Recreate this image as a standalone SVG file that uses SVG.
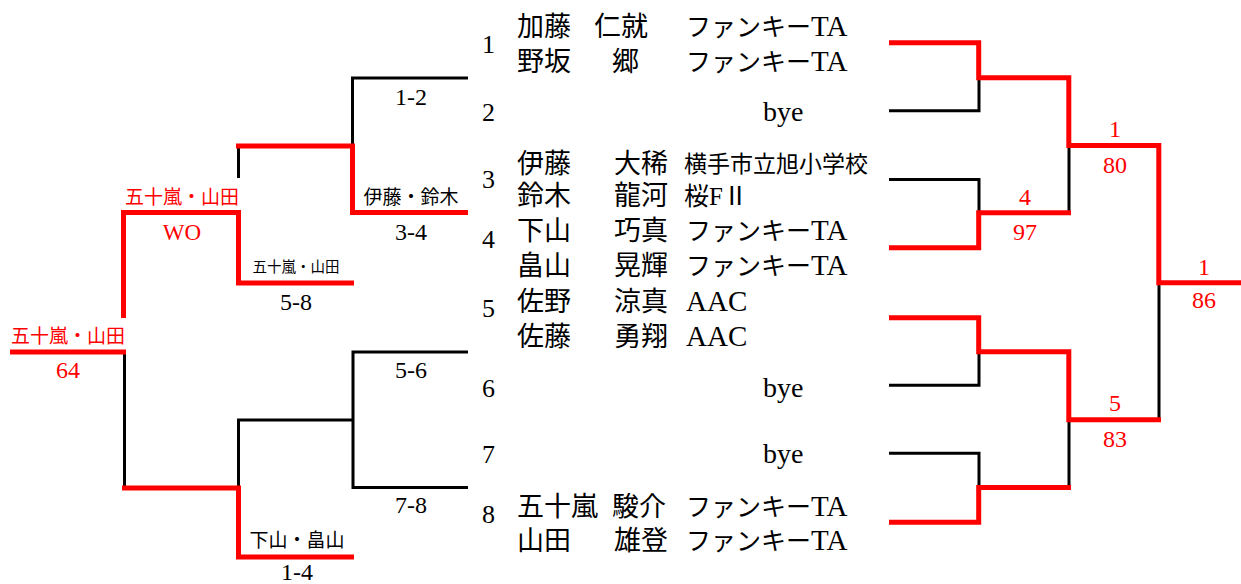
<svg xmlns="http://www.w3.org/2000/svg" width="1241" height="584" viewBox="0 0 1241 584">
<style>
text{font-family:'Liberation Serif','Noto Sans CJK JP',serif;fill:#000}
.nm{font-size:27px}
.cl{font-size:25px}
.lat{font-size:29px}
.sc{font-size:23px}
.no{font-size:26px}
.bye{font-size:28px}
.sc2{font-size:24px;text-anchor:middle}
.lb{font-size:19px;text-anchor:middle}
.lbs{font-size:14.5px;text-anchor:middle}
.r{fill:#FF0000}
.bk{fill:none;stroke:#000;stroke-width:3;stroke-linejoin:miter}
.rd{fill:none;stroke:#FF0000;stroke-width:5;stroke-linejoin:miter}
</style>
<rect width="1241" height="584" fill="#fff"/>
<g id="connectors">
<g id="black-lines">
<path class="bk" d="M468,78 H352.5 V146"/>
<path class="bk" d="M238.5,146 V178"/>
<path class="bk" d="M124.5,352 V488"/>
<path class="bk" d="M468,352 H353 V487.5 H468"/>
<path class="bk" d="M353,420 H238.5 V488"/>
<path class="bk" d="M889,110.8 H979 V77.7"/>
<path class="bk" d="M889,179.5 H979 V212.8"/>
<path class="bk" d="M1069,145.5 V212.8"/>
<path class="bk" d="M1159,282.8 V419.8"/>
<path class="bk" d="M889,385.3 H979 V351.8"/>
<path class="bk" d="M889,453.2 H979 V487.5"/>
<path class="bk" d="M1069,419.8 V487.5"/>
</g>
<g id="red-lines">
<path class="rd" d="M468,212.5 H352.5 V146 H236"/>
<path class="rd" d="M123.5,318 V212.5 H238.5 V283 H354"/>
<path class="rd" d="M10,352 H126"/>
<path class="rd" d="M122,488 H238.5 V557 H354"/>
<path class="rd" d="M889,42.7 H978.7 V77.7 H1068.8 V145.5 H1158.8 V282.8 H1241"/>
<path class="rd" d="M889,247.8 H978.7 V212.8 H1071"/>
<path class="rd" d="M889,317.8 H978.7 V351.8 H1068.8 V419.8 H1161"/>
<path class="rd" d="M889,522.2 H978.7 V487.5 H1071"/>
</g>
</g>
<g id="entry-1">
<text class="no" x="482" y="53">1</text>
<text class="nm" x="517" y="36">加藤</text><text class="nm" x="594" y="36">仁就</text><text class="cl" x="686" y="36">ファンキー<tspan class="lat">TA</tspan></text>
<text class="nm" x="517" y="71">野坂</text><text class="nm" x="612" y="71">郷</text><text class="cl" x="686" y="71">ファンキー<tspan class="lat">TA</tspan></text>
</g>
<g id="entry-2">
<text class="no" x="482" y="121">2</text>
<text class="bye" x="763" y="121">bye</text>
</g>
<g id="entry-3">
<text class="no" x="482" y="188">3</text>
<text class="nm" x="517" y="173">伊藤</text><text class="nm" x="614" y="173">大稀</text><text class="sc" x="684" y="172">横手市立旭小学校</text>
<text class="nm" x="517" y="205">鈴木</text><text class="nm" x="614" y="205">龍河</text><text class="cl" x="684" y="205">桜F<tspan>Ⅱ</tspan></text>
</g>
<g id="entry-4">
<text class="no" x="482" y="248">4</text>
<text class="nm" x="517" y="240">下山</text><text class="nm" x="614" y="240">巧真</text><text class="cl" x="686" y="240">ファンキー<tspan class="lat">TA</tspan></text>
<text class="nm" x="517" y="275">畠山</text><text class="nm" x="614" y="275">晃輝</text><text class="cl" x="686" y="275">ファンキー<tspan class="lat">TA</tspan></text>
</g>
<g id="entry-5">
<text class="no" x="482" y="317">5</text>
<text class="nm" x="517" y="311">佐野</text><text class="nm" x="614" y="311">涼真</text><text class="lat" x="686" y="311">AAC</text>
<text class="nm" x="517" y="346">佐藤</text><text class="nm" x="614" y="346">勇翔</text><text class="lat" x="686" y="346">AAC</text>
</g>
<g id="entry-6">
<text class="no" x="482" y="397">6</text>
<text class="bye" x="763" y="397">bye</text>
</g>
<g id="entry-7">
<text class="no" x="482" y="463">7</text>
<text class="bye" x="763" y="463">bye</text>
</g>
<g id="entry-8">
<text class="no" x="482" y="523">8</text>
<text class="nm" x="517" y="516">五十嵐</text><text class="nm" x="612" y="516">駿介</text><text class="cl" x="686" y="516">ファンキー<tspan class="lat">TA</tspan></text>
<text class="nm" x="517" y="550">山田</text><text class="nm" x="614" y="550">雄登</text><text class="cl" x="686" y="550">ファンキー<tspan class="lat">TA</tspan></text>
</g>
<g id="left-labels">
<text class="sc2" x="411" y="105">1-2</text>
<text class="lb" x="411" y="204">伊藤・鈴木</text>
<text class="sc2" x="411" y="240">3-4</text>
<text class="lb r" x="182" y="204">五十嵐・山田</text>
<text class="sc2 r" x="182" y="240" style="font-size:23px">WO</text>
<text class="lbs" x="296" y="272">五十嵐・山田</text>
<text class="sc2" x="296" y="310">5-8</text>
<text class="lb r" x="68" y="343">五十嵐・山田</text>
<text class="sc2 r" x="68" y="378">64</text>
<text class="sc2" x="411" y="378">5-6</text>
<text class="sc2" x="411" y="513">7-8</text>
<text class="lb" x="297" y="547">下山・畠山</text>
<text class="sc2" x="297" y="580">1-4</text>
</g>
<g id="right-labels">
<text class="sc2 r" x="1115" y="137">1</text>
<text class="sc2 r" x="1115" y="173">80</text>
<text class="sc2 r" x="1025" y="205">4</text>
<text class="sc2 r" x="1025" y="240">97</text>
<text class="sc2 r" x="1204" y="275">1</text>
<text class="sc2 r" x="1204" y="308">86</text>
<text class="sc2 r" x="1115" y="411">5</text>
<text class="sc2 r" x="1115" y="447">83</text>
</g>
</svg>
